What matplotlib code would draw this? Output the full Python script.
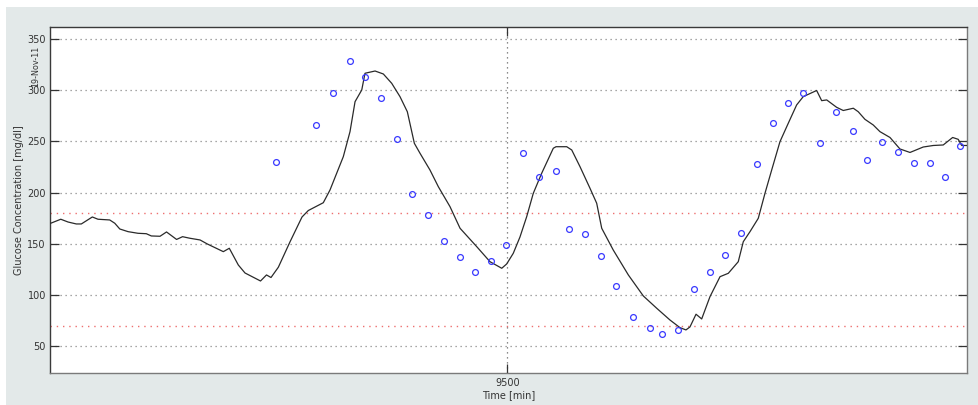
import matplotlib
matplotlib.use("Agg")
import matplotlib.pyplot as plt
from matplotlib.patches import Rectangle

# CGM trace (time in minutes, glucose in mg/dl)
cgm_time = [
    9064.3, 9073.9, 9080.8, 9088.7, 9093.5, 9104.0, 9109.4, 9120.6, 9125.4, 9130.2,
    9138.1, 9147.6, 9155.5, 9160.3, 9168.6, 9174.8, 9184.4, 9190.1, 9196.9, 9206.8,
    9213.7, 9229.0, 9234.7, 9243.3, 9249.7, 9264.5, 9270.2, 9274.5, 9281.5, 9292.7,
    9304.1, 9310.1, 9324.4, 9330.8, 9343.5, 9349.9, 9354.7, 9361.1, 9364.2, 9373.8,
    9381.7, 9389.7, 9397.6, 9404.6, 9411.3, 9416.7, 9426.2, 9434.2, 9445.3, 9454.9,
    9470.8, 9483.5, 9494.7, 9499.4, 9505.7, 9512.1, 9518.5, 9524.8, 9532.8, 9543.9,
    9546.5, 9556.7, 9561.5, 9569.4, 9578.9, 9585.3, 9590.1, 9601.1, 9615.5, 9629.8,
    9642.6, 9655.2, 9664.8, 9670.5, 9674.3, 9680.1, 9685.5, 9693.4, 9703.0, 9710.9,
    9720.4, 9725.2, 9731.6, 9739.5, 9745.9, 9752.3, 9760.2, 9768.1, 9776.1, 9782.4,
    9795.2, 9800.0, 9804.8, 9814.3, 9820.6, 9830.2, 9834.9, 9841.3, 9849.2, 9855.6,
    9865.2, 9874.7, 9884.3, 9896.9, 9906.5, 9916.0, 9925.0, 9930.3, 9933.6, 9938.4,
]
cgm_value = [
    170.1, 174.0, 171.3, 169.4, 169.4, 176.2, 174.0, 173.3, 170.1, 164.5,
    161.9, 160.3, 159.9, 157.7, 157.4, 161.6, 154.3, 157.0, 155.5, 153.8,
    149.9, 142.4, 145.7, 129.4, 121.6, 113.8, 119.7, 117.2, 127.2, 152.1,
    176.2, 182.5, 190.1, 202.5, 235.0, 259.4, 288.6, 300.0, 316.3, 318.5,
    315.6, 306.5, 293.5, 278.8, 248.0, 238.3, 222.0, 205.7, 186.3, 165.2,
    147.3, 132.6, 126.2, 130.4, 140.8, 156.7, 176.5, 199.3, 218.8, 243.2,
    244.7, 244.7, 241.5, 225.2, 204.2, 189.6, 165.2, 144.0, 119.7, 99.2,
    87.2, 75.8, 68.3, 66.1, 69.0, 81.4, 76.8, 98.5, 118.0, 121.3,
    132.6, 152.1, 161.9, 174.9, 199.3, 222.0, 249.6, 267.5, 285.4, 293.5,
    299.5, 289.6, 290.3, 283.1, 280.0, 282.2, 278.8, 271.4, 265.9, 259.4,
    253.7, 242.5, 239.1, 244.4, 245.9, 246.4, 253.7, 251.9, 245.9, 245.9,
]

# reference / predicted samples shown as open circles
ref_time = [
    9279, 9317, 9334, 9350, 9364, 9379, 9395, 9409, 9424, 9440,
    9455, 9469, 9484, 9499, 9515, 9530, 9546, 9559, 9574, 9589,
    9604, 9620, 9636, 9648, 9663, 9678, 9693, 9708, 9723, 9738,
    9754, 9768, 9782, 9798, 9814, 9830, 9843, 9858, 9873, 9888,
    9903, 9918, 9932,
]
ref_value = [
    229.5, 265.9, 297.4, 328.3, 313.0, 292.5, 251.9, 198.6, 177.9, 153.1,
    136.9, 122.6, 133.6, 149.2, 238.9, 215.5, 221.0, 164.8, 159.9, 137.9,
    108.7, 78.4, 67.7, 62.2, 66.1, 106.0, 122.9, 139.2, 160.9, 227.9,
    268.1, 287.3, 296.8, 248.1, 278.8, 260.3, 232.1, 249.0, 239.6, 228.8,
    228.8, 215.5, 245.7,
]

y_ticks = [50, 100, 150, 200, 250, 300, 350]
x_ticks = [9500]
thresholds = [70, 180]
date_label = "19-Nov-11"

fig = plt.figure(figsize=(9.79, 4.05), dpi=100, facecolor="white")
fig.patches.append(Rectangle((6 / 979, 0), 1, 1 - 7 / 405, transform=fig.transFigure,
                             facecolor="#e3e9e9", edgecolor="none", zorder=-10))

ax = fig.add_axes([50 / 979, 1 - 372.7 / 405, 916.7 / 979, 345.7 / 405])
ax.set_xlim(9063.6, 9938.4)
ax.set_ylim(24.4, 361.4)

for yv in y_ticks:
    ax.axhline(yv, color="#8a8a8a", lw=0.9, ls=(0, (1, 3)), zorder=1)
for yv in thresholds:
    ax.axhline(yv, color="#ee6f6f", lw=1.0, ls=(0, (1, 3.5)), zorder=2)
for xv in x_ticks:
    ax.axvline(xv, color="#666666", lw=0.9, ls=(0, (1, 3)), zorder=1)

ax.plot(cgm_time, cgm_value, color="#2a2a2a", lw=0.9, zorder=3)
ax.plot(ref_time, ref_value, ls="none", marker="o", markersize=4.2,
        markerfacecolor="none", markeredgecolor="#3a3aff", markeredgewidth=0.9, zorder=4)

ax.set_xticks(x_ticks)
ax.set_yticks(y_ticks)
ax.tick_params(direction="in", length=6.5, width=0.9, labelsize=7, colors="#333333",
               top=True, right=True, pad=3)
ax.tick_params(axis="x", pad=4)

for side in ["top", "left"]:
    ax.spines[side].set_color("#3a3a3a")
for side in ["bottom", "right"]:
    ax.spines[side].set_color("#7a7a7a")
for sp in ax.spines.values():
    sp.set_linewidth(1.0)

ax.set_xlabel("Time [min]", fontsize=7, color="#333333", labelpad=1)
ax.set_ylabel("Glucose Concentration [mg/dl]", fontsize=7, color="#333333", labelpad=2)
# date stamp squeezed between the 350 and 300 tick labels
ax.text(-0.016, 0.826, date_label, transform=ax.transAxes, rotation=90,
        ha="center", va="bottom", fontsize=5.8, color="#333333", clip_on=False)

fig.savefig("out.png", dpi=100, facecolor=fig.get_facecolor())
